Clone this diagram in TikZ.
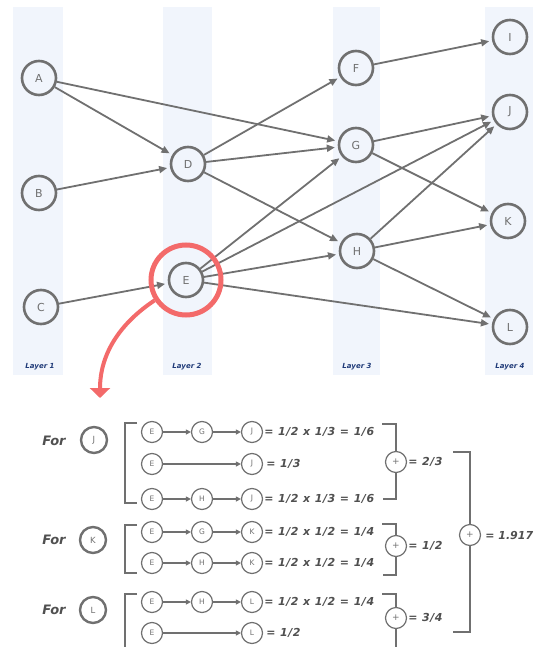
\documentclass[tikz,border=0pt]{standalone}
\usepackage{fontspec}
\setmainfont{DejaVu Sans}
\usetikzlibrary{arrows.meta}
\definecolor{ng}{HTML}{707070}
\definecolor{band}{HTML}{F1F5FC}
\definecolor{lyr}{HTML}{1F3A78}
\definecolor{redc}{HTML}{F36A6A}
\definecolor{txt}{HTML}{505050}
\begin{document}
\begin{tikzpicture}[x=1pt,y=-1pt,
  big/.style={circle,draw=ng,line width=2.6pt,minimum size=34pt,inner sep=0pt,font=\fontsize{11}{12}\selectfont,text=ng},
  edge/.style={draw=ng,line width=1.8pt,-{Triangle[length=8pt,width=7pt]},shorten >=3pt},
  lyrlab/.style={font=\fontsize{7}{8}\selectfont\bfseries\itshape,text=lyr},
  bigb/.style={circle,draw=ng,line width=2.4pt,minimum size=26pt,inner sep=0pt,font=\fontsize{8.5}{9}\selectfont,text=ng},
  sm/.style={circle,draw=ng,line width=1.2pt,minimum size=21pt,inner sep=0pt,font=\fontsize{7.5}{8}\selectfont,text=ng},
  sarr/.style={draw=ng,line width=1.2pt,-{Triangle[length=5pt,width=5pt]}},
  br/.style={draw=ng,line width=1.4pt},
  lab0/.style={anchor=west,inner sep=1pt,font=\fontsize{11}{12}\selectfont\bfseries\itshape,text=txt},
  lab/.style={lab0,execute at begin node={\addfontfeature{LetterSpace=5}\spaceskip=0.42em\relax}},
  fortxt/.style={font=\fontsize{13}{14}\selectfont\bfseries\itshape,text=txt}
]
\useasboundingbox (0,0) rectangle (535,647);
% bands
\fill[band] (13,7) rectangle (63,375);
\fill[band] (163,7) rectangle (212,375);
\fill[band] (333,7) rectangle (380,375);
\fill[band] (485,7) rectangle (533,375);
\node[lyrlab] (l1) at (40,367) {Layer 1};
\node[lyrlab] (l2) at (187,367) {Layer 2};
\node[lyrlab] (l3) at (357,367) {Layer 3};
\node[lyrlab] (l4) at (510,367) {Layer 4};
% nodes
\node[big] (A) at (39,78) {A};
\node[big] (B) at (39,193) {B};
\node[big] (C) at (41,307) {C};
\node[big] (D) at (188,164) {D};
\node[big] (E) at (186,280) {E};
\node[big] (F) at (356,68) {F};
\node[big] (G) at (356,145) {G};
\node[big] (H) at (357,251) {H};
\node[big] (I) at (510,37) {I};
\node[big] (J) at (510,112) {J};
\node[big] (K) at (508,221) {K};
\node[big] (L) at (510,327) {L};
% edges
\foreach \s/\t in {A/D,A/G,B/D,C/E,D/F,D/G,D/H,E/G,E/J,E/H,E/L,F/I,G/J,G/K,H/J,H/K,H/L}
  \draw[edge] (\s) -- (\t);
% red highlight
\node[circle,draw=redc,line width=5pt,minimum size=70pt,inner sep=0pt] (ring) at (186,280) {};
\coordinate (rtip) at (100,398);
\draw[redc,line width=4pt,-{Triangle[length=10pt,width=20pt]}] (ring.213) .. controls (122,322) and (100,352) .. (rtip);
% ---------- For J
\node[fortxt] (forJ) at (54,441) {For};
\node[bigb] (cJ) at (94,440) {J};
\draw[br] (137,423) -- (125,423) -- (125,503) -- (137,503);
\node[sm] (j1e) at (152,432) {E};
\node[sm] (j1g) at (202,432) {G};
\node[sm] (j1j) at (252,432) {J};
\draw[sarr] (j1e) -- (j1g);
\draw[sarr] (j1g) -- (j1j);
\node[lab] (t1) at (j1j.east) {= 1/2 x 1/3 = 1/6};
\node[sm] (j2e) at (152,464) {E};
\node[sm] (j2j) at (252,464) {J};
\draw[sarr] (j2e) -- (j2j);
\node[lab] (t2) at ([xshift=2pt]j2j.east) {= 1/3};
\node[sm] (j3e) at (152,499) {E};
\node[sm] (j3h) at (202,499) {H};
\node[sm] (j3j) at (252,499) {J};
\draw[sarr] (j3e) -- (j3h);
\draw[sarr] (j3h) -- (j3j);
\node[lab] (t3) at (j3j.east) {= 1/2 x 1/3 = 1/6};
\node[sm,font=\fontsize{9}{9}\selectfont] (pJ) at (396,462) {+};
\draw[br] (382,424) -- (396,424) -- (pJ.north);
\draw[br] (pJ.south) -- (396,499) -- (383,499);
\node[lab] (sJ) at (pJ.east) {= 2/3};
% ---------- For K
\node[fortxt] (forK) at (54,540) {For};
\node[bigb] (cK) at (93,540) {K};
\draw[br] (137,525) -- (125,525) -- (125,573) -- (137,573);
\node[sm] (k1e) at (152,532) {E};
\node[sm] (k1g) at (202,532) {G};
\node[sm] (k1k) at (252,532) {K};
\draw[sarr] (k1e) -- (k1g);
\draw[sarr] (k1g) -- (k1k);
\node[lab] (t4) at (k1k.east) {= 1/2 x 1/2 = 1/4};
\node[sm] (k2e) at (152,563) {E};
\node[sm] (k2h) at (202,563) {H};
\node[sm] (k2k) at (252,563) {K};
\draw[sarr] (k2e) -- (k2h);
\draw[sarr] (k2h) -- (k2k);
\node[lab] (t5) at (k2k.east) {= 1/2 x 1/2 = 1/4};
\node[sm,font=\fontsize{9}{9}\selectfont] (pK) at (396,546) {+};
\draw[br] (382,524) -- (396,524) -- (pK.north);
\draw[br] (pK.south) -- (396,575) -- (383,575);
\node[lab] (sK) at (pK.east) {= 1/2};
% ---------- For L
\node[fortxt] (forL) at (54,610) {For};
\node[bigb] (cL) at (93,610) {L};
\draw[br] (137,594) -- (125,594) -- (125,647);
\node[sm] (l1e) at (152,602) {E};
\node[sm] (l1h) at (202,602) {H};
\node[sm] (l1l) at (252,602) {L};
\draw[sarr] (l1e) -- (l1h);
\draw[sarr] (l1h) -- (l1l);
\node[lab] (t6) at (l1l.east) {= 1/2 x 1/2 = 1/4};
\node[sm] (l2e) at (152,633) {E};
\node[sm] (l2l) at (252,633) {L};
\draw[sarr] (l2e) -- (l2l);
\node[lab] (t7) at ([xshift=2pt]l2l.east) {= 1/2};
\node[sm,font=\fontsize{9}{9}\selectfont] (pL) at (396,618) {+};
\draw[br] (382,594) -- (396,594) -- (pL.north);
\draw[br] (pL.south) -- (396,647);
\node[lab] (sL) at (pL.east) {= 3/4};
% ---------- total
\node[sm,font=\fontsize{9}{9}\selectfont] (pT) at (470,535) {+};
\draw[br] (453,452) -- (470,452) -- (pT.north);
\draw[br] (pT.south) -- (470,632) -- (453,632);
\node[lab0] (sT) at ([xshift=3pt]pT.east) {= 1.917};
\end{tikzpicture}
\end{document}
